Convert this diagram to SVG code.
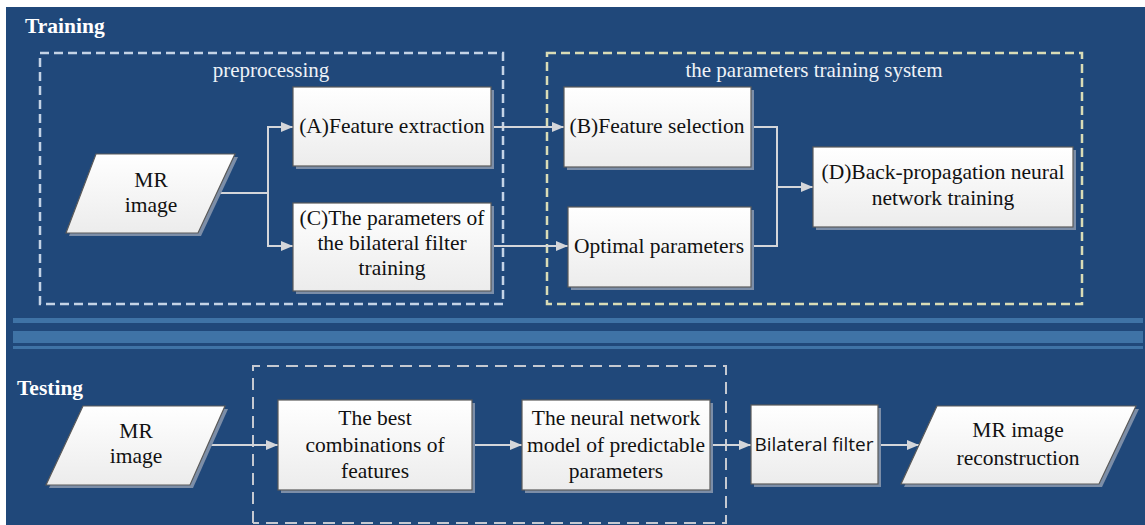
<svg xmlns="http://www.w3.org/2000/svg" width="1145" height="525" viewBox="0 0 1145 525">
  <defs>
    <linearGradient id="boxFill" x1="0" y1="0" x2="0" y2="1">
      <stop offset="0" stop-color="#ffffff"/>
      <stop offset="1" stop-color="#ececec"/>
    </linearGradient>
    <marker id="arrow" viewBox="0 0 12 10" refX="12" refY="5" markerWidth="12" markerHeight="10" markerUnits="userSpaceOnUse" orient="auto">
      <path d="M0,0 L12,5 L0,10 z" fill="#d4d6da"/>
    </marker>
  </defs>
  <style>
    .node { fill: url(#boxFill); stroke: #5a5a5a; stroke-width: 1.2; }
    .shadow { fill: #7c8ea8; }
    .label { font-family: "Liberation Serif", "Times New Roman", serif; font-size: 21.5px; fill: #111; text-anchor: middle; }
    .sans { font-family: "Open Sans", "Liberation Sans", Arial, sans-serif; font-size: 19px; fill: #111; text-anchor: middle; }
    .heading { font-family: "Liberation Serif", "Times New Roman", serif; font-size: 21.5px; font-weight: bold; fill: #ffffff; }
    .caption { font-family: "Liberation Serif", "Times New Roman", serif; font-size: 21px; fill: #eef2f7; text-anchor: middle; }
    .link { fill: none; stroke: #d4d6da; stroke-width: 2; }
    .group-blue { fill: none; stroke: #c4d3e6; stroke-width: 2.5; stroke-dasharray: 9 5; }
    .group-khaki { fill: none; stroke: #d9dcb6; stroke-width: 2.5; stroke-dasharray: 9 5; }
    .group-grey { fill: none; stroke: #c5c9d1; stroke-width: 2; stroke-dasharray: 12 7; }
    .band { fill: #3f73a6; }
  </style>

  <!-- panel background -->
  <rect x="6" y="7" width="1139" height="518" fill="#20487a"/>

  <!-- section separator -->
  <rect class="band" x="13" y="318" width="1130" height="5"/>
  <rect class="band" x="13" y="331" width="1130" height="12"/>
  <rect class="band" x="13" y="346" width="1130" height="3"/>

  <!-- section headings -->
  <text class="heading" x="25" y="33">Training</text>
  <text class="heading" x="17" y="395">Testing</text>

  <!-- dashed groupings -->
  <g id="group-preprocessing">
    <rect class="group-blue" x="40" y="53" width="463" height="251"/>
    <text class="caption" x="271" y="77">preprocessing</text>
  </g>
  <g id="group-parameters-training">
    <rect class="group-khaki" x="547" y="53" width="535" height="251"/>
    <text class="caption" x="814" y="77">the parameters training system</text>
  </g>
  <g id="group-testing">
    <polyline class="group-grey" points="253,523 253,366 726,366 726,523 253,523"/>
  </g>

  <!-- connectors -->
  <g id="connectors">
    <polyline class="link" points="217,193 268,193"/>
    <polyline class="link" points="268,246 268,127 293,127" marker-end="url(#arrow)"/>
    <polyline class="link" points="268,193 268,246 293,246" marker-end="url(#arrow)"/>
    <polyline class="link" points="491,127 564,127" marker-end="url(#arrow)"/>
    <polyline class="link" points="491,246 568,246" marker-end="url(#arrow)"/>
    <polyline class="link" points="751,127 777,127 777,246 751,246"/>
    <polyline class="link" points="777,187 813,187" marker-end="url(#arrow)"/>
    <polyline class="link" points="206,445 278,445" marker-end="url(#arrow)"/>
    <polyline class="link" points="472,445 522,445" marker-end="url(#arrow)"/>
    <polyline class="link" points="710,445 751,445" marker-end="url(#arrow)"/>
    <polyline class="link" points="878,445 919,445" marker-end="url(#arrow)"/>
  </g>

  <!-- training nodes -->
  <g id="node-mr-image-train">
    <polygon class="shadow" points="99,157 238,157 201,236 69,236"/>
    <polygon class="node" points="96,154 235,154 198,233 66,233"/>
    <text class="label" x="151" y="187">MR</text>
    <text class="label" x="151" y="212">image</text>
  </g>
  <g id="node-feature-extraction">
    <rect class="shadow" x="296" y="90" width="198" height="79"/>
    <rect class="node" x="293" y="87" width="198" height="79"/>
    <text class="label" x="392" y="133">(A)Feature extraction</text>
  </g>
  <g id="node-bilateral-training">
    <rect class="shadow" x="296" y="206" width="198" height="88"/>
    <rect class="node" x="293" y="203" width="198" height="88"/>
    <text class="label" x="392" y="225">(C)The parameters of</text>
    <text class="label" x="392" y="250">the bilateral filter</text>
    <text class="label" x="392" y="275">training</text>
  </g>
  <g id="node-feature-selection">
    <rect class="shadow" x="567" y="90" width="187" height="80"/>
    <rect class="node" x="564" y="87" width="187" height="80"/>
    <text class="label" x="657" y="133">(B)Feature selection</text>
  </g>
  <g id="node-optimal-parameters">
    <rect class="shadow" x="571" y="210" width="183" height="80"/>
    <rect class="node" x="568" y="207" width="183" height="80"/>
    <text class="label" x="659" y="253">Optimal parameters</text>
  </g>
  <g id="node-backprop">
    <rect class="shadow" x="816" y="150" width="260" height="80"/>
    <rect class="node" x="813" y="147" width="260" height="80"/>
    <text class="label" x="943" y="179">(D)Back-propagation neural</text>
    <text class="label" x="943" y="205">network training</text>
  </g>

  <!-- testing nodes -->
  <g id="node-mr-image-test">
    <polygon class="shadow" points="86,409 228,409 193,488 49,488"/>
    <polygon class="node" points="83,406 225,406 190,485 46,485"/>
    <text class="label" x="136" y="438">MR</text>
    <text class="label" x="136" y="463">image</text>
  </g>
  <g id="node-best-features">
    <rect class="shadow" x="281" y="403" width="194" height="90"/>
    <rect class="node" x="278" y="400" width="194" height="90"/>
    <text class="label" x="375" y="425">The best</text>
    <text class="label" x="375" y="452">combinations of</text>
    <text class="label" x="375" y="478">features</text>
  </g>
  <g id="node-nn-model">
    <rect class="shadow" x="525" y="403" width="188" height="90"/>
    <rect class="node" x="522" y="400" width="188" height="90"/>
    <text class="label" x="616" y="425">The neural network</text>
    <text class="label" x="616" y="452">model of predictable</text>
    <text class="label" x="616" y="478">parameters</text>
  </g>
  <g id="node-bilateral-filter">
    <rect class="shadow" x="754" y="408" width="127" height="79"/>
    <rect class="node" x="751" y="405" width="127" height="79"/>
    <text class="sans" x="814" y="451">Bilateral filter</text>
  </g>
  <g id="node-reconstruction">
    <polygon class="shadow" points="940,409 1139,409 1102,487 904,487"/>
    <polygon class="node" points="937,406 1136,406 1099,484 901,484"/>
    <text class="label" x="1018" y="437">MR image</text>
    <text class="label" x="1018" y="465">reconstruction</text>
  </g>
</svg>
